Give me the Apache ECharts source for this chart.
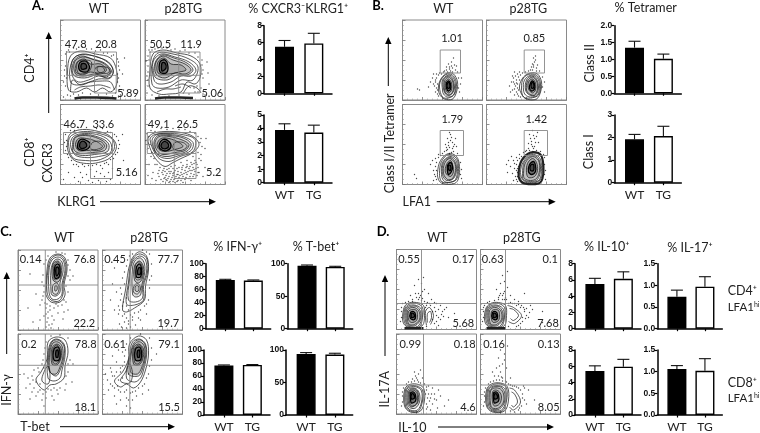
<!DOCTYPE html>
<html><head><meta charset="utf-8"><style>html,body{margin:0;background:#fff}#c{width:760px;height:433px}</style>
<script src="https://cdn.jsdelivr.net/npm/echarts@6/dist/echarts.min.js"></script></head><body><div id="c"></div><script>
// ---------- bar values [WT, TG] and top of error bar [WT, TG]
const categories=['WT','TG'];
const cxcr3Cd4=[5.5,5.9],cxcr3Cd4Err=[6.25,7.1];
const cxcr3Cd8=[3.9,3.7],cxcr3Cd8Err=[4.35,4.25];
const tetII=[1.35,1.02],tetIIErr=[1.54,1.16];
const tetI=[1.92,2.07],tetIErr=[2.14,2.5];
const ifnTop=[75,74],ifnTopErr=[76,75];
const tbetTop=[97,95],tbetTopErr=[98,96];
const ifnBot=[76,77],ifnBotErr=[77,77.6];
const tbetBot=[94,93],tbetBotErr=[96,95];
const il10Top=[5.5,6.15],il10TopErr=[6.2,7.0];
const il17Top=[0.74,0.97],il17TopErr=[0.89,1.2];
const il10Bot=[5.4,5.95],il10BotErr=[6.05,6.85];
const il17Bot=[1.06,1.02],il17BotErr=[1.14,1.3];

// ---------- flow plots: all in 0-80 plot units (x right, y up)
const ringsA1=[[[8,10],[7,28],[10,44],[20,49],[35,46],[50,42],[56,30],[56,15],[50,8],[42,12],[34,8],[26,12],[16,8],[8,10]],[[12,24],[12,40],[22,46],[36,43],[48,38],[53,28],[48,22],[38,24],[28,20],[18,18],[12,24]],[[15,26],[14,38],[22,43],[34,40],[44,36],[50,28],[44,24],[34,26],[24,24],[15,26]],[[17,28],[17,38],[24,41],[30,36],[40,36],[46,30],[40,26],[30,28],[22,25],[17,28]],[[19,30],[19,37],[25,39],[29,33],[26,28],[19,30]],[[21,31],[21,36],[25,36],[26,32],[21,31]],[[10,18],[10,34],[16,44],[28,45],[42,41],[52,32],[50,22],[38,21],[26,17],[16,15],[10,18]],[[13,25],[13,38],[20,44],[32,41],[44,37],[51,29],[46,23],[36,25],[24,22],[13,25]],[[34,28],[36,33],[42,33],[44,29],[38,27],[34,28]],[[16,27],[16,37],[23,40],[31,38],[28,28],[16,27]],[[38,28],[37,33],[48,32],[48,27],[38,28]],[[10,8],[12,20],[20,15],[30,18],[42,19],[50,18],[54,10]],[[14,10],[20,13],[30,14],[40,15],[50,12]]];
const bandA1=[[14,1.5],[22,2.5],[36,2.5],[50,2],[56,1.5]];
const ringsA2=[[[5,12],[5,30],[8,46],[18,50],[32,47],[46,44],[55,36],[55,22],[50,16],[42,18],[36,8],[24,6],[14,6],[5,12]],[[9,20],[8,38],[16,46],[30,43],[44,38],[51,30],[46,24],[36,24],[26,18],[14,16],[9,20]],[[11,26],[11,38],[18,44],[28,40],[40,36],[46,30],[40,26],[30,27],[20,22],[11,26]],[[13,27],[13,38],[19,42],[26,36],[36,35],[41,30],[34,28],[24,26],[13,27]],[[15,28],[15,38],[20,40],[23,33],[21,27],[15,28]],[[17,29],[17,37],[20,37],[21,32],[17,29]],[[7,16],[7,36],[13,47],[28,46],[44,41],[53,33],[48,20],[36,20],[24,13],[12,12],[7,16]],[[10,23],[10,37],[17,45],[29,42],[42,37],[48,30],[42,25],[32,25],[22,20],[10,23]],[[38,6],[44,14],[52,12],[56,7]],[[30,14],[38,16],[46,12]],[[12,8],[20,11],[28,11],[36,13]]];
const bandA2=[[10,1.5],[20,2.5],[35,2.5],[48,2]];
const ringsA3=[[[7,42],[10,51],[22,55],[38,53],[50,48],[56,38],[50,27],[38,22],[26,21],[14,24],[8,32],[7,42]],[[10,40],[13,48],[24,51],[40,49],[50,42],[50,32],[38,28],[24,27],[14,30],[10,40]],[[13,40],[15,47],[25,49],[38,46],[46,40],[44,34],[32,32],[20,31],[14,34],[13,40]],[[15,40],[18,46],[26,46],[36,43],[42,38],[36,35],[26,34],[18,34],[15,40]],[[17,39],[20,45],[26,44],[30,40],[26,35],[19,35],[17,39]],[[19,39],[21,43],[25,42],[26,38],[21,36],[19,39]],[[8,42],[11,49],[23,53],[39,51],[52,45],[53,34],[40,25],[25,24],[12,27],[8,42]],[[12,40],[14,47],[24,50],[39,47],[48,41],[47,33],[34,30],[22,29],[13,32],[12,40]],[[30,36],[32,42],[40,43],[44,38],[38,34],[30,36]]];
const ringsA4=[[[3,46],[8,51],[20,53],[36,52],[48,48],[54,40],[48,32],[36,26],[28,22],[20,18],[12,24],[6,34],[3,46]],[[7,44],[12,50],[24,50],[38,48],[48,42],[46,34],[34,29],[22,26],[12,30],[7,44]],[[10,42],[14,48],[24,48],[36,45],[44,40],[40,34],[30,32],[18,30],[12,34],[10,42]],[[12,40],[16,46],[24,46],[34,42],[38,38],[30,35],[20,33],[14,35],[12,40]],[[14,39],[18,45],[24,43],[26,38],[22,34],[16,35],[14,39]],[[16,39],[19,43],[23,41],[23,37],[18,36],[16,39]],[[5,45],[10,50],[22,51],[37,50],[50,45],[48,33],[35,28],[24,23],[13,27],[5,45]],[[9,43],[13,49],[24,49],[37,47],[46,41],[43,34],[32,30],[20,28],[11,32],[9,43]],[[28,36],[30,42],[38,42],[42,38],[36,34],[28,36]]];
const ringsB1=[[[36,14],[39,22],[45,27],[51,26],[55,18],[54,8],[50,1],[42,1],[37,6],[36,14]],[[40,10],[40,20],[46,25],[51,22],[53,14],[51,5],[45,3],[41,6],[40,10]],[[42,10],[42,19],[46,23],[50,19],[51,11],[48,5],[44,6],[42,10]],[[43,11],[43,18],[46,21],[49,17],[49,10],[46,7],[43,11]],[[44,12],[44,17],[46,19],[48,16],[48,11],[46,9],[44,12]],[[45,12],[45,17],[47,17],[47,12],[45,12]],[[37,13],[39,21],[45,26],[51,24],[54,16],[52,6],[46,2],[40,3],[37,13]],[[41,11],[41,20],[46,24],[50,21],[52,12],[49,6],[44,5],[41,11]]];
const ringsB2=[[[33,14],[37,23],[44,27],[51,26],[55,18],[54,8],[50,1],[40,1],[35,6],[33,14]],[[37,10],[38,20],[45,25],[51,22],[53,14],[51,5],[44,3],[39,5],[37,10]],[[40,10],[41,19],[46,23],[50,19],[51,11],[48,5],[43,6],[40,10]],[[42,11],[42,18],[46,21],[49,17],[49,10],[46,7],[42,11]],[[43,12],[44,17],[46,19],[48,16],[48,11],[45,9],[43,12]],[[45,12],[45,17],[47,17],[47,12],[45,12]],[[35,12],[37,22],[44,26],[51,24],[54,16],[52,5],[44,2],[37,3],[35,12]],[[39,10],[40,20],[45,24],[50,21],[52,12],[49,5],[43,5],[39,10]]];
const ringsB3=[[[35,12],[38,24],[46,31],[54,28],[57,18],[56,6],[52,1],[40,1],[36,5],[35,12]],[[39,10],[40,22],[47,28],[53,25],[55,16],[53,5],[46,2],[41,4],[39,10]],[[41,11],[42,21],[47,26],[52,22],[53,14],[50,6],[45,5],[41,11]],[[43,12],[44,20],[48,24],[50,20],[51,13],[48,8],[43,12]],[[45,13],[45,19],[48,22],[50,18],[49,13],[46,10],[45,13]],[[46,15],[46,19],[48,19],[48,14],[46,15]],[[37,11],[39,23],[46,30],[54,26],[56,16],[54,5],[46,2],[39,3],[37,11]],[[40,10],[41,22],[47,27],[52,24],[54,15],[51,6],[44,4],[40,10]]];
const ringsB4=[[[32,12],[35,24],[44,32],[54,30],[57,18],[56,6],[52,1],[38,1],[33,5],[32,12]],[[34,12],[37,23],[45,30],[53,27],[55,16],[53,5],[45,2],[37,4],[34,12]],[[37,11],[39,22],[46,28],[52,24],[53,14],[50,6],[44,4],[38,6],[37,11]],[[40,12],[41,21],[46,26],[50,22],[51,14],[48,8],[42,7],[40,12]],[[42,13],[43,20],[47,23],[49,19],[49,13],[45,10],[42,13]],[[44,14],[44,19],[47,20],[47,14],[44,14]],[[33,12],[36,24],[45,31],[54,29],[56,17],[54,5],[45,1],[36,3],[33,12]],[[36,11],[38,23],[46,29],[52,26],[54,15],[51,5],[44,3],[37,5],[36,11]]];
const ringsC1=[[[28,40],[29,60],[32,72],[40,76],[47,72],[49,60],[46,45],[47,35],[42,28],[33,28],[28,35],[28,40]],[[31,38],[31,60],[34,70],[40,73],[45,70],[47,60],[44,46],[44,36],[40,31],[34,31],[31,38]],[[33,38],[33,60],[36,69],[40,71],[44,68],[45,58],[42,47],[42,38],[38,34],[34,35],[33,38]],[[35,50],[35,66],[40,69],[43,65],[43,54],[40,48],[35,50]],[[37,52],[37,64],[40,66],[42,62],[41,53],[37,52]],[[38,55],[38,62],[40,63],[41,58],[39,54],[38,55]],[[35,37],[35,45],[39,47],[41,42],[39,36],[35,37]],[[37,39],[37,44],[39,44],[39,40],[37,39]],[[29,38],[30,60],[33,71],[40,75],[46,71],[48,60],[45,46],[45,36],[41,29],[33,30],[29,38]],[[36,51],[36,65],[40,68],[42,64],[42,53],[37,50],[36,51]]];
const ringsC2=[[[20,20],[23,40],[28,68],[36,78],[44,74],[46,60],[43,44],[42,30],[32,22],[24,18],[20,20]],[[26,30],[27,50],[30,68],[37,74],[43,70],[44,58],[40,44],[40,32],[33,28],[26,30]],[[30,36],[30,62],[33,70],[38,72],[42,66],[42,56],[39,44],[38,35],[33,33],[30,36]],[[32,50],[32,64],[37,69],[41,63],[40,52],[36,47],[32,50]],[[34,53],[34,63],[37,66],[39,61],[38,53],[34,53]],[[35,56],[36,62],[38,62],[38,56],[35,56]],[[31,38],[32,45],[36,46],[38,41],[35,36],[31,38]],[[33,39],[33,44],[36,44],[36,39],[33,39]],[[24,26],[26,48],[29,68],[36,76],[44,72],[45,58],[41,44],[41,30],[32,25],[24,26]],[[33,52],[33,65],[37,68],[40,62],[39,52],[35,50],[33,52]]];
const ringsC3=[[[18,34],[23,42],[29,55],[30,72],[38,77],[47,74],[50,62],[47,48],[46,36],[38,30],[32,29],[26,24],[18,34]],[[30,36],[30,60],[33,72],[39,75],[46,70],[47,58],[44,44],[42,36],[36,33],[30,36]],[[32,42],[32,62],[35,71],[40,72],[44,68],[45,58],[42,47],[38,40],[32,42]],[[34,50],[34,66],[39,70],[43,66],[43,56],[39,49],[34,50]],[[36,54],[36,65],[40,67],[42,62],[41,54],[36,54]],[[38,57],[38,63],[40,64],[40,57],[38,57]],[[24,33],[26,42],[30,48],[32,38],[30,30],[24,33]],[[31,44],[31,61],[34,72],[40,74],[46,68],[46,58],[43,46],[38,38],[31,44]],[[35,52],[35,65],[39,69],[42,64],[42,55],[38,50],[35,52]]];
const ringsC4=[[[12,33],[20,42],[26,55],[27,70],[36,78],[44,74],[46,60],[43,44],[38,32],[31,26],[24,30],[18,27],[12,33]],[[24,36],[27,58],[30,72],[37,75],[43,70],[44,58],[41,44],[38,36],[32,32],[24,36]],[[28,42],[29,62],[33,71],[38,72],[42,67],[42,56],[39,46],[35,40],[28,42]],[[31,50],[31,66],[36,70],[41,65],[40,54],[36,49],[31,50]],[[33,54],[33,65],[37,67],[39,62],[38,54],[33,54]],[[35,57],[35,63],[37,64],[37,57],[35,57]],[[18,33],[23,42],[27,50],[30,40],[27,31],[18,33]],[[26,40],[28,60],[32,72],[38,74],[43,68],[43,57],[40,45],[36,38],[26,40]],[[32,52],[32,65],[37,69],[40,63],[39,54],[35,50],[32,52]]];
const ringsD1=[[[7,6],[7,20],[11,26],[20,27],[27,24],[28,14],[26,4],[16,1],[7,6]],[[9,8],[9,20],[13,24],[20,24],[25,20],[25,10],[21,3],[13,3],[9,8]],[[11,9],[11,19],[15,22],[20,21],[23,17],[23,10],[18,5],[13,5],[11,9]],[[12,10],[12,18],[16,20],[20,19],[21,15],[20,9],[15,7],[12,10]],[[14,11],[14,17],[17,18],[19,15],[18,10],[14,11]],[[15,12],[15,16],[17,16],[18,13],[15,12]],[[8,7],[8,20],[12,25],[20,26],[26,22],[26,12],[23,3],[14,2],[8,7]],[[10,8],[10,20],[14,23],[20,23],[24,18],[24,10],[19,4],[13,4],[10,8]],[[30,4],[29,18],[33,22],[37,14],[34,5]],[[31,7],[31,16],[34,18],[35,12],[33,7]]];
const bandD1=[[8,1.2],[16,1.2],[27,1.2]];
const ringsD2=[[[5,6],[5,20],[10,26],[18,27],[25,24],[26,14],[24,4],[14,1],[5,6]],[[7,8],[7,20],[11,24],[18,24],[23,20],[23,10],[19,3],[11,3],[7,8]],[[9,9],[9,19],[13,22],[18,21],[21,17],[21,10],[16,5],[11,5],[9,9]],[[11,10],[11,18],[14,20],[18,19],[19,15],[18,9],[13,7],[11,10]],[[12,11],[12,17],[15,18],[17,15],[16,10],[12,11]],[[13,12],[13,16],[15,16],[16,13],[13,12]],[[6,7],[6,20],[10,25],[18,26],[24,22],[24,12],[21,3],[12,2],[6,7]],[[8,8],[8,20],[12,23],[18,23],[22,18],[22,10],[17,4],[11,4],[8,8]],[[27,24],[33,22],[41,14],[34,6],[28,8]],[[29,21],[33,20],[38,14],[33,9],[30,11]]];
const bandD2=[[6,1.2],[14,1.2],[25,1.2]];
const ringsD3=[[[8,8],[8,24],[12,29],[20,30],[27,26],[28,14],[24,3],[14,2],[8,8]],[[10,9],[10,24],[14,27],[20,27],[25,23],[25,12],[21,4],[14,4],[10,9]],[[11,10],[11,23],[15,26],[20,25],[23,20],[23,12],[19,6],[14,6],[11,10]],[[13,12],[13,22],[16,24],[20,22],[21,17],[20,10],[15,8],[13,12]],[[14,14],[14,21],[17,22],[19,19],[19,13],[15,11],[14,14]],[[15,15],[15,20],[17,20],[18,16],[15,15]],[[9,8],[9,24],[13,28],[20,28],[26,24],[26,13],[22,3],[14,3],[9,8]],[[12,11],[12,22],[15,25],[20,24],[22,18],[21,11],[15,7],[12,11]]];
const ringsD4=[[[6,8],[6,24],[11,30],[20,31],[27,27],[28,14],[24,3],[12,2],[6,8]],[[8,9],[8,24],[13,28],[20,28],[25,24],[25,12],[21,4],[12,4],[8,9]],[[10,10],[10,23],[14,26],[20,25],[23,20],[23,12],[18,6],[12,6],[10,10]],[[12,12],[12,22],[15,24],[19,22],[21,17],[19,10],[14,8],[12,12]],[[13,14],[13,21],[16,22],[18,19],[18,13],[14,11],[13,14]],[[14,15],[14,20],[16,20],[17,16],[14,15]],[[7,8],[7,24],[12,29],[20,30],[26,26],[26,13],[22,3],[12,3],[7,8]],[[9,10],[9,23],[13,27],[20,27],[24,22],[24,12],[19,5],[12,5],[9,10]],[[29,26],[34,24],[40,12],[33,4],[29,7]],[[31,22],[34,20],[37,12],[33,7],[31,9]]];

const dotsA1=[[5,46],[6,38],[4,30],[6,22],[5,14],[8,50],[13,52],[22,53],[31,51],[40,50],[47,47],[53,45],[58,38],[59,30],[58,22],[59,14],[55,7],[46,6],[38,5],[30,6],[22,7],[13,6],[7,5],[3,3],[60,5],[62,26],[64,42],[3,18],[10,4],[18,5],[52,4],[58,3],[63,10],[6,48],[16,51],[26,51],[35,49],[43,47],[51,44],[57,41],[58,34],[57,26],[57,18],[58,10],[4,24],[5,34],[9,48]];
const dotsA2=[[3,44],[3,34],[2,24],[3,14],[7,50],[13,52],[22,52],[30,51],[40,50],[50,47],[57,40],[58,30],[58,22],[56,12],[50,8],[44,6],[34,5],[24,4],[14,4],[7,5],[2,7],[60,5],[64,16],[62,38],[46,52],[4,50],[63,27],[1,39],[52,14],[58,6],[4,40],[5,48],[10,51],[17,52],[26,50],[35,49],[44,47],[53,43],[57,35],[57,26],[3,28],[3,20],[49,12],[53,8]];
const dotsA3=[[5,50],[4,42],[5,34],[8,27],[13,20],[18,18],[24,18],[32,19],[40,19],[46,22],[53,26],[57,32],[59,40],[56,48],[50,52],[42,56],[18,57],[10,54],[30,15],[36,13],[42,16],[48,12],[26,10],[34,8],[44,8],[50,5],[38,4],[20,12],[14,7],[8,12],[3,5],[18,3],[60,10],[63,24],[62,50],[48,20],[28,4],[52,16],[40,11],[32,2],[46,3],[22,7],[6,44],[6,38],[7,30],[11,24],[16,20],[22,20],[28,19],[36,20],[44,21],[50,25],[55,30],[58,36],[58,44],[54,50],[47,53],[36,56],[26,57],[14,54]];
const dotsA4=[[2,51],[1,44],[3,36],[6,28],[10,20],[14,14],[8,12],[4,20],[18,14],[22,15],[26,18],[30,19],[36,22],[42,24],[48,28],[53,32],[57,38],[56,46],[50,51],[40,55],[28,56],[16,56],[6,54],[60,36],[61,46],[14,8],[18,10],[22,11],[26,13],[30,14],[34,17],[38,19],[42,20],[46,22],[50,24],[16,5],[20,7],[24,8],[28,9],[32,10],[36,12],[40,14],[44,16],[48,17],[52,20],[18,3],[22,4],[26,5],[30,6],[34,7],[38,8],[42,10],[46,11],[50,13],[24,2],[28,3],[32,3],[36,4],[40,5],[44,6],[48,8],[52,9],[13,11],[17,12],[21,9],[25,11],[29,12],[33,13],[37,15],[41,17],[45,18],[49,21],[19,6],[23,6],[27,7],[31,8],[35,9],[39,11],[43,13],[47,14],[51,16],[30,2],[38,2],[46,4],[54,12],[56,24],[58,8],[11,4],[7,6],[3,9],[60,17],[15,17],[19,16],[24,16],[28,16],[32,16],[37,17],[42,18],[47,20],[51,22],[54,26],[56,30],[20,13],[24,13],[28,11],[33,10],[37,10],[41,12],[45,14],[49,15],[53,17],[21,5],[25,3],[29,5],[33,4],[37,6],[41,7],[45,8],[49,10],[53,12],[4,48],[5,40],[7,32],[9,26],[12,20],[55,42],[53,48],[45,53],[34,55],[22,55],[10,53]];
const dotsB1=[[33,20],[31,16],[34,12],[30,22],[28,18],[34,26],[37,27],[33,8],[17,10],[15,11],[26,13],[44,30],[47,33],[50,32],[53,30],[49,38],[46,36],[52,35],[51,42],[55,28],[58,16],[57,8],[36,4],[31,26],[54,34],[48,29],[42,29],[45,28],[59,22],[35,16],[34,22],[36,25],[32,14],[33,18],[35,10],[35,6],[39,26],[41,28],[50,28],[56,22],[56,12],[47,31],[49,34],[44,33]];
const dotsB2=[[30,20],[28,16],[31,12],[27,22],[25,18],[31,26],[34,25],[30,8],[26,10],[23,14],[28,28],[44,30],[47,33],[50,32],[53,29],[48,38],[46,36],[51,35],[49,44],[47,42],[58,18],[58,8],[32,4],[29,14],[26,24],[33,28],[24,8],[28,5],[30,17],[32,23],[34,3],[46,30],[31,16],[32,10],[33,20],[29,24],[27,18],[28,11],[31,6],[36,27],[39,28],[42,29],[50,29],[56,23],[56,13],[47,35],[49,40],[45,33]];
const dotsB3=[[33,18],[31,14],[33,8],[30,24],[28,20],[33,26],[36,30],[14,6],[12,10],[31,4],[44,34],[47,37],[50,36],[46,42],[50,42],[53,46],[48,50],[51,33],[55,31],[42,33],[59,15],[59,6],[45,46],[52,40],[49,32],[38,29],[47,31],[43,40],[54,38],[34,14],[34,22],[36,27],[32,10],[34,5],[40,31],[46,39],[48,44],[49,47],[45,35],[51,38],[58,22],[58,10],[47,52],[44,37]];
const dotsB4=[[30,20],[28,16],[29,8],[27,24],[24,18],[30,27],[33,30],[20,20],[21,12],[27,4],[42,36],[45,40],[48,38],[44,46],[48,46],[51,52],[46,54],[50,34],[54,33],[40,34],[59,14],[59,5],[43,50],[52,42],[46,33],[37,32],[31,12],[26,11],[25,28],[49,42],[47,36],[42,41],[58,27],[31,3],[22,24],[31,24],[32,18],[31,16],[31,8],[30,5],[33,26],[35,28],[39,33],[43,34],[52,32],[57,30],[58,20],[58,10],[45,43],[47,49],[46,38],[50,48],[30,14],[28,21]];
const dotsC1=[[25,55],[24,48],[26,38],[24,30],[22,25],[28,22],[32,24],[36,22],[40,24],[44,25],[48,28],[50,38],[52,50],[52,60],[50,70],[47,76],[38,78],[30,74],[26,66],[55,54],[12,56],[10,22],[30,18],[26,14],[34,14],[29,8],[34,6],[28,3],[36,10],[40,17],[46,18],[22,10],[18,36],[30,12],[45,11],[33,2],[15,8],[50,20],[27,27],[26,44],[25,34],[29,26],[38,26],[46,30],[48,44],[50,54],[50,65],[28,70],[44,77],[32,20],[28,16],[31,5]];
const dotsC2=[[18,30],[16,24],[20,14],[24,12],[28,15],[32,17],[38,20],[42,24],[46,30],[47,42],[49,54],[49,66],[47,76],[40,80],[30,76],[24,64],[20,52],[18,42],[10,46],[14,38],[8,30],[22,8],[26,6],[30,10],[24,2],[28,3],[33,5],[36,12],[16,16],[12,20],[20,24],[24,32],[19,3],[38,10],[44,16],[26,20],[22,46],[22,58],[12,62],[17,6],[19,36],[21,28],[17,20],[22,16],[30,13],[36,18],[44,26],[47,50],[25,70],[27,74],[44,78],[24,24],[26,9]];
const dotsC3=[[28,72],[26,60],[24,50],[20,46],[14,38],[12,30],[16,26],[20,22],[25,20],[30,25],[36,26],[42,26],[48,30],[50,42],[52,54],[50,76],[42,79],[33,78],[16,44],[10,36],[8,26],[18,18],[24,14],[22,30],[18,32],[26,8],[34,18],[14,22],[55,50],[54,32],[40,20],[6,40],[12,15],[28,16],[36,14],[47,24],[27,66],[25,54],[21,42],[15,34],[22,24],[28,22],[33,24],[39,24],[48,38],[50,50],[26,46]];
const dotsC4=[[24,70],[22,58],[20,48],[14,42],[10,38],[8,30],[12,26],[18,22],[24,24],[30,22],[36,26],[42,30],[46,40],[49,54],[49,66],[47,76],[38,80],[28,76],[14,52],[8,46],[5,34],[12,18],[18,14],[24,16],[30,14],[20,36],[16,34],[26,40],[6,24],[10,58],[20,62],[16,64],[34,18],[40,20],[24,8],[14,10],[54,60],[3,40],[18,42],[28,6],[46,24],[23,64],[22,52],[18,46],[12,38],[10,28],[16,24],[22,22],[28,21],[33,23],[40,28],[44,36],[47,48],[15,28],[9,42],[26,14]];
const dotsD1=[[5,18],[4,8],[6,26],[12,28],[22,30],[28,28],[30,24],[34,24],[38,22],[42,20],[46,18],[50,22],[40,14],[44,10],[38,6],[42,4],[30,3],[24,34],[26,38],[22,36],[28,40],[20,32],[25,46],[22,50],[27,52],[18,44],[14,34],[32,36],[52,12],[58,16],[16,30],[35,30],[31,27],[47,13],[36,18],[40,26],[44,24],[5,12],[5,22],[9,27],[16,28],[25,29],[29,22],[30,26],[33,26],[39,18],[42,12],[36,10],[40,8],[45,15],[48,20],[23,32],[26,31],[19,36],[38,27]];
const dotsD2=[[3,18],[2,8],[4,24],[9,28],[18,30],[24,30],[28,26],[32,26],[36,24],[40,22],[44,18],[46,14],[48,12],[42,8],[38,4],[28,3],[22,34],[24,38],[20,36],[27,42],[18,32],[24,48],[22,54],[27,58],[20,46],[16,40],[30,34],[52,20],[62,18],[74,10],[43,22],[38,28],[34,30],[46,21],[49,17],[50,24],[42,12],[36,3],[44,36],[62,7],[3,12],[3,22],[7,27],[14,29],[22,30],[25,32],[30,27],[34,26],[38,25],[41,24],[44,20],[45,11],[40,6],[23,36],[19,34],[26,30]];
const dotsD3=[[6,18],[5,8],[7,26],[12,32],[18,33],[24,31],[28,30],[30,24],[32,20],[34,16],[30,10],[36,10],[40,14],[44,18],[38,20],[42,24],[32,28],[30,5],[20,36],[22,40],[18,42],[24,44],[21,34],[26,36],[16,35],[48,8],[52,14],[36,26],[34,4],[41,6],[6,12],[6,22],[10,30],[15,32],[29,20],[31,16],[31,7],[33,13],[35,20],[38,15],[30,27],[22,32],[19,38]];
const dotsD4=[[4,18],[3,8],[5,26],[10,32],[16,34],[22,33],[28,30],[30,29],[34,28],[38,26],[42,20],[44,14],[46,10],[38,4],[30,3],[18,38],[20,42],[16,46],[22,50],[18,56],[24,60],[20,64],[26,46],[22,36],[14,38],[24,54],[12,42],[30,36],[48,24],[54,14],[44,26],[41,8],[43,28],[27,68],[19,48],[4,12],[4,22],[8,30],[13,33],[19,34],[25,33],[32,28],[36,27],[40,24],[42,16],[39,6],[34,2],[21,37],[26,32]];

// gates: polylines drawn in each plot
const gatesA1=[[[6,48],[56,48],[56,24.7],[6,24.7],[6,48]],[[34,48],[34,7]],[[34,7],[55.7,7],[55.7,24.7]]];
const gatesA2=[[[5,48],[55,48],[55,24.7],[5,24.7],[5,48]],[[33.7,48],[33.7,7]],[[33.7,7],[55,7],[55,24.7]]];
const gatesA3=[[[3,52],[52,52],[52,31],[3,31],[3,52]],[[30,52],[30,6]],[[30,6],[52,6],[52,31]]];
const gatesA4=[[[2.3,52],[51,52],[51,31],[2.3,31],[2.3,52]],[[29.3,52],[29.3,6]],[[29.3,6],[51,6],[51,31]]];
const gatesBtop=[[[37.7,50],[58,50],[58,27],[37.7,27],[37.7,50]]];
const gatesBbot=[[[37.7,54],[61,54],[61,29],[37.7,29],[37.7,54]]];
const gatesC1=[[[27.3,0],[27.3,80]],[[0,45],[80,45]]];
const gatesC2=[[[27.7,0],[27.7,80]],[[0,45],[80,45]]];
const gatesC3=[[[27.3,0],[27.3,80]],[[0,48.7],[80,48.7]]];
const gatesC4=[[[27.3,0],[27.3,80]],[[0,48.7],[80,48.7]]];
const gatesD1=[[[25,0],[25,80]],[[0,26],[80,26]]];
const gatesD2=[[[25,0],[25,80]],[[0,26],[80,26]]];
const gatesD3=[[[27,0],[27,80]],[[0,29],[80,29]]];
const gatesD4=[[[25,0],[25,80]],[[0,29],[80,29]]];

const flowPlots=[
 {l:60.5,t:20,r:ringsA1,d:dotsA1,g:gatesA1,b:bandA1},{l:145,t:20,r:ringsA2,d:dotsA2,g:gatesA2,b:bandA2},
 {l:60.5,t:104.5,r:ringsA3,d:dotsA3,g:gatesA3},{l:145,t:104.5,r:ringsA4,d:dotsA4,g:gatesA4},
 {l:402.5,t:20,r:ringsB1,d:dotsB1,g:gatesBtop},{l:486.5,t:20,r:ringsB2,d:dotsB2,g:gatesBtop},
 {l:402.5,t:104.5,r:ringsB3,d:dotsB3,g:gatesBbot},{l:486.5,t:104.5,r:ringsB4,d:dotsB4,g:gatesBbot,edge:1},
 {l:18,t:250,r:ringsC1,d:dotsC1,g:gatesC1},{l:102.5,t:250,r:ringsC2,d:dotsC2,g:gatesC2},
 {l:18,t:334,r:ringsC3,d:dotsC3,g:gatesC3},{l:102.5,t:334,r:ringsC4,d:dotsC4,g:gatesC4},
 {l:396.5,t:249.5,r:ringsD1,d:dotsD1,g:gatesD1,b:bandD1},{l:480.5,t:249.5,r:ringsD2,d:dotsD2,g:gatesD2,b:bandD2},
 {l:396.5,t:334,r:ringsD3,d:dotsD3,g:gatesD3},{l:480.5,t:334,r:ringsD4,d:dotsD4,g:gatesD4}];

const barPlots=[
 {l:264,w:68,t:25.7,h:67.6,max:8,i:2,v:cxcr3Cd4,e:cxcr3Cd4Err},
 {l:264,w:68,t:115,h:67.7,max:5,i:1,v:cxcr3Cd8,e:cxcr3Cd8Err,x:1},
 {l:614.3,w:67,t:25.7,h:67.6,max:2,i:.5,v:tetII,e:tetIIErr,dec:1},
 {l:614.3,w:67,t:115,h:67.7,max:3,i:1,v:tetI,e:tetIErr,x:1},
 {l:205.7,w:65,t:263.7,h:65,max:100,i:20,v:ifnTop,e:ifnTopErr},
 {l:287.3,w:65.4,t:263.7,h:65,max:100,i:50,v:tbetTop,e:tbetTopErr},
 {l:204,w:66,t:350,h:65,max:100,i:20,v:ifnBot,e:ifnBotErr,x:1},
 {l:286,w:66.7,t:350,h:65,max:100,i:50,v:tbetBot,e:tbetBotErr,x:1},
 {l:575,w:66,t:263.7,h:65,max:8,i:2,v:il10Top,e:il10TopErr},
 {l:657.3,w:65,t:263.7,h:65,max:1.5,i:.5,v:il17Top,e:il17TopErr,dec:1},
 {l:575,w:66,t:350,h:65,max:8,i:2,v:il10Bot,e:il10BotErr,x:1},
 {l:657.3,w:65,t:350,h:65,max:1.5,i:.5,v:il17Bot,e:il17BotErr,dec:1,x:1}];

// text: [string, centre x, centre y]
const gateLabels=[['47.8',75.7,44.7],['20.8',106,44.7],['5.89',128,93.3],['50.5',160.3,44.7],['11.9',191,44.7],['5.06',212.3,93.3],['46.7',74.3,124.3],['33.6',103.3,124.3],['5.16',126.7,172.7],['49.1',158.7,124.3],['26.5',187.3,124.3],['5.2',213.7,172.7],
['1.01',452,38.3],['0.85',534.3,38.3],['1.79',452.3,119.7],['1.42',536.3,119.7],
['0.14',30.7,259.3],['76.8',84.7,259.3],['22.2',84.3,323],['0.45',115,259.3],['77.7',168.3,259.3],['19.7',168.3,323],['0.2',29,344.3],['78.8',85.7,344.3],['18.1',85.3,407.3],['0.61',115,344.3],['79.1',169,344.3],['15.5',169,407.3],
['0.55',409,259.3],['0.17',463.3,259.3],['5.68',463.3,323],['0.63',492.7,259.3],['0.1',550.3,259.3],['7.68',548,323],['0.99',410.3,344.3],['0.18',464.7,344.3],['4.6',468,407.3],['0.16',494,344.3],['0.13',548.7,344.3],['8.05',548.7,407.3]];
const headings=[['WT',99,8.5],['p28TG',183.3,8.5],['% CXCR3⁻KLRG1⁺',298.3,8.5],['WT',443.3,8.5],['p28TG',528.3,8.5],['% Tetramer',645.7,8],['WT',64.3,237.7],['p28TG',149,237.7],['% IFN-γ⁺',237.7,247],['% T-bet⁺',316,247],['WT',437.3,237.7],['p28TG',521.7,237.7],['% IL-10⁺',606.7,247],['% IL-17⁺',690,248],['KLRG1',76.7,201.7],['LFA1',416.7,201.7],['T-bet',35,426.7],['IL-10',412.3,428]];
const panelLetters=[['A.',38,6],['B.',378,6],['C.',6,232],['D.',383,232]];
const rotatedLabels=[['CD4⁺',30,68],['CD8⁺',30,152],['CXCR3',47.7,163],['Class I/II Tetramer',390,143.3],['Class II',590,63.3],['Class I',589.3,151.7],['IFN-γ',6.7,390],['IL-17A',385,389.3]];
const sideLabels=[['CD4⁺',727.7,291,12.5],['LFA1{s|hi}',727.7,307.7,11.5],['CD8⁺',727.7,382.7,12.5],['LFA1{s|hi}',727.7,398.7,11.5]];
const arrows=[[48.7,113,48.7,32],[100,201.7,216,201.7],[388.3,86,388.3,37],[436.7,201.7,555.7,201.7],[6.7,354,6.7,272],[60,426.7,175,426.7],[385,356,385,275],[438,427,554,427]];

const F='Lato';
const grid=[],xAxis=[],yAxis=[],series=[],graphic=[];
flowPlots.forEach((p,k)=>{
  grid.push({left:p.l,top:p.t,width:80,height:80,show:true,borderColor:'#8a8a8a',borderWidth:1,backgroundColor:'#fff'});
  const ax=()=>({type:'value',min:0,max:80,interval:20,gridIndex:k,splitLine:{show:false},axisLabel:{show:false},
    axisLine:{show:true,onZero:false,lineStyle:{color:'#8a8a8a',width:1}},
    axisTick:{show:true,inside:true,length:3,lineStyle:{color:'#777',width:.8}},
    minorTick:{show:true,splitNumber:4,length:1.5,lineStyle:{color:'#999',width:.6}}});
  xAxis.push(ax());yAxis.push(ax());
  series.push({type:'scatter',xAxisIndex:k,yAxisIndex:k,data:p.d,symbolSize:1.4,itemStyle:{color:'#1a1a1a'},silent:true,z:2});
  series.push({type:'custom',coordinateSystem:'cartesian2d',xAxisIndex:k,yAxisIndex:k,silent:true,z:3,
    data:p.r.map((_,j)=>[j]),
    renderItem:(o,api)=>{
      const ring=p.r[o.dataIndex],j=o.dataIndex,pts=ring.map(q=>api.coord(q));
      const last=ring[ring.length-1],closed=ring[0][0]===last[0]&&ring[0][1]===last[1];
      const core=j===4||j===5,soft=j===2||j===3||j===7;
      return {type:closed?'polygon':'polyline',shape:{points:closed?pts.slice(0,-1):pts,smooth:.35},
        style:{fill:closed?(core?'rgba(0,0,0,.35)':soft?'rgba(0,0,0,.13)':null):null,stroke:core?'#000':'#222',
          lineWidth:core?1.3:(j===0&&p.edge?2:.75)}};
    }});
  p.g.forEach(g=>series.push({type:'line',xAxisIndex:k,yAxisIndex:k,data:g,showSymbol:false,silent:true,z:4,
    lineStyle:{color:'#888',width:.9}}));
  if(p.b)series.push({type:'line',xAxisIndex:k,yAxisIndex:k,data:p.b,smooth:.4,showSymbol:false,silent:true,z:3,lineStyle:{color:'#222',width:2.6}});
});
barPlots.forEach((p,n)=>{
  const k=flowPlots.length+n;
  grid.push({left:p.l,top:p.t,width:p.w,height:p.h});
  xAxis.push({type:'value',gridIndex:k,min:.3,max:2.62,splitLine:{show:false},
    axisLine:{show:true,onZero:false,lineStyle:{color:'#000',width:1.5}},
    axisTick:{show:true,length:2.5,customValues:[1,2],lineStyle:{color:'#000',width:1.2}},
    axisLabel:{show:!!p.x,customValues:[1,2],formatter:v=>categories[v-1],fontFamily:F,fontSize:12,color:'#222',margin:6}});
  yAxis.push({type:'value',gridIndex:k,min:0,max:p.max,interval:p.i,splitLine:{show:false},
    axisLine:{show:true,onZero:false,lineStyle:{color:'#000',width:1.5}},
    axisTick:{show:true,length:3,lineStyle:{color:'#000',width:1.2}},
    axisLabel:{fontFamily:'Liberation Sans',fontWeight:'bold',fontSize:8.5,color:'#111',margin:2,
      formatter:v=>p.dec?v.toFixed(p.dec):String(v)}});
  series.push({type:'bar',xAxisIndex:k,yAxisIndex:k,barWidth:19,silent:true,z:2,
    data:p.v.map((v,i)=>({value:[i+1,v],itemStyle:{color:i?'#fff':'#000',borderColor:'#000',borderWidth:1.4}}))});
  series.push({type:'custom',xAxisIndex:k,yAxisIndex:k,silent:true,z:3,data:p.v.map((v,i)=>[i+1,v,p.e[i]]),
    encode:{x:0,y:[1,2]},clip:false,
    renderItem:(o,api)=>{const a=api.coord([api.value(0),api.value(1)]),b=api.coord([api.value(0),api.value(2)]);
      const st={stroke:'#111',lineWidth:1.1};
      return {type:'group',children:[
        {type:'line',shape:{x1:a[0],y1:a[1],x2:b[0],y2:b[1]},style:st},
        {type:'line',shape:{x1:b[0]-6,y1:b[1],x2:b[0]+6,y2:b[1]},style:st}]};}});
});
const txt=(s,x,y,o={})=>graphic.push(Object.assign({type:'text',x,y,silent:true,z:20,
  style:Object.assign({text:s,fontFamily:F,fontSize:12,fill:'#222',align:'center',verticalAlign:'middle'},o.style||{})},o.rotation?{rotation:o.rotation}:{}));
gateLabels.forEach(t=>txt(t[0],t[1],t[2],{style:{fontSize:11}}));
headings.forEach(t=>txt(t[0],t[1],t[2],{style:{fontSize:12.5}}));
panelLetters.forEach(t=>txt(t[0],t[1],t[2],{style:{fontSize:13,fontWeight:'bold',fill:'#000'}}));
rotatedLabels.forEach(t=>txt(t[0],t[1],t[2],{rotation:Math.PI/2,style:{fontSize:12.5}}));
sideLabels.forEach(t=>txt(t[0],t[1],t[2],{style:{fontSize:t[3],align:'left',rich:{s:{fontSize:7,fontFamily:F,fill:'#222',verticalAlign:'top'}}}}));
arrows.forEach(a=>{
  const [x1,y1,x2,y2]=a,vert=x1===x2;
  graphic.push({type:'line',silent:true,z:20,shape:vert?{x1,y1,x2,y2:y2+5}:{x1,y1,x2:x2-5,y2},style:{stroke:'#000',lineWidth:1}});
  graphic.push({type:'polygon',silent:true,z:20,shape:{points:vert?[[x2,y2],[x2-3.2,y2+7],[x2+3.2,y2+7]]:[[x2,y2],[x2-7,y2-3.2],[x2-7,y2+3.2]]},style:{fill:'#000'}});
});
const chart=echarts.init(document.getElementById('c'),null,{renderer:'canvas'});
chart.setOption({animation:false,backgroundColor:'#fff',grid,xAxis,yAxis,series,graphic:{elements:graphic}});
</script></body></html>
